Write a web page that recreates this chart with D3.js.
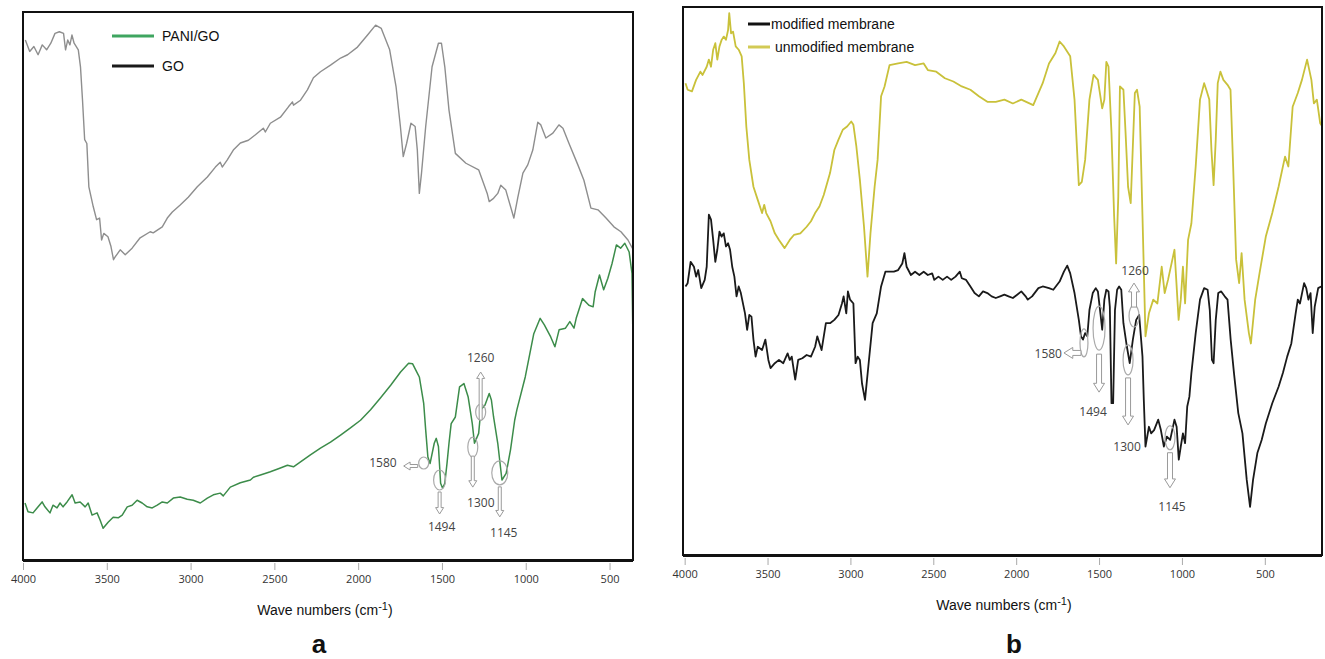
<!DOCTYPE html>
<html lang="en">
<head>
<meta charset="UTF-8">
<title>FTIR spectra</title>
<script src="https://d3js.org/d3.v7.min.js"></script>
<style>
  body { margin: 0; background: #fff; font-family: "Liberation Sans", Arial, sans-serif; }
  .tick text { font-family: "Open Sans", sans-serif; font-size: 11px; fill: #333; }
  .tick line { stroke: #aaa; }
  .peak { font-family: "Open Sans", sans-serif; font-size: 12px; fill: #444; }
  .legend { font-size: 14px; fill: #111; }
</style>
</head>
<body>
<svg width="1325" height="659"></svg>
<script>
// ---- data (wavenumber cm-1, transmittance a.u.) ----
const ticks = [4000, 3500, 3000, 2500, 2000, 1500, 1000, 500];

const goData = [[3986,94.9],[3960,92.8],[3935,93.7],[3910,92.2],[3885,94.0],[3859,93.1],[3834,94.3],[3809,96.1],[3783,96.4],[3758,96.1],[3746,93.1],[3733,94.9],[3720,94.0],[3708,95.8],[3695,94.3],[3670,93.1],[3657,90.0],[3645,84.0],[3632,76.7],[3619,76.0],[3607,68.1],[3581,64.5],[3561,62.1],[3543,62.4],[3531,58.4],[3518,59.6],[3493,59.0],[3475,57.2],[3460,54.8],[3450,55.3],[3420,56.6],[3390,55.7],[3349,56.9],[3301,58.8],[3241,59.9],[3223,59.7],[3169,60.8],[3139,62.4],[3109,63.5],[3062,64.8],[3014,66.2],[2960,68.1],[2900,69.9],[2852,71.7],[2823,72.6],[2811,71.7],[2781,73.0],[2745,74.8],[2703,76.1],[2655,76.6],[2613,77.6],[2566,78.8],[2554,78.1],[2524,79.7],[2464,80.8],[2416,82.7],[2392,83.6],[2386,83.0],[2344,83.9],[2303,85.8],[2267,88.0],[2225,89.1],[2165,90.3],[2105,91.6],[2063,92.2],[2004,93.6],[1944,95.8],[1896,97.6],[1862,97.0],[1812,93.1],[1774,86.4],[1748,79.1],[1731,73.6],[1711,76.0],[1685,79.7],[1660,79.1],[1647,74.8],[1635,66.9],[1622,70.6],[1597,79.1],[1559,90.0],[1521,94.3],[1503,94.3],[1483,90.0],[1458,82.1],[1420,74.2],[1357,72.4],[1281,71.2],[1230,66.9],[1218,65.4],[1192,66.0],[1167,66.9],[1149,68.4],[1119,67.5],[1071,62.4],[1047,66.2],[1017,70.6],[988,72.1],[958,74.8],[928,79.9],[910,79.4],[880,77.0],[838,77.9],[802,79.4],[778,78.8],[743,76.1],[689,72.1],[653,69.3],[611,64.2],[569,63.9],[521,62.4],[474,60.8],[432,59.9],[390,58.4],[362,56.8]];

const paniData = [[3988,10.4],[3970,8.8],[3940,8.6],[3916,9.5],[3886,10.6],[3869,9.7],[3839,8.6],[3821,10.0],[3797,9.5],[3779,10.4],[3761,9.7],[3737,10.6],[3707,11.9],[3689,10.4],[3659,10.6],[3629,9.7],[3611,10.4],[3588,8.2],[3558,8.6],[3540,7.3],[3522,5.8],[3492,6.9],[3462,7.8],[3432,7.7],[3408,8.2],[3378,9.7],[3349,10.0],[3319,10.9],[3289,10.4],[3259,9.7],[3229,9.5],[3199,10.0],[3169,10.6],[3139,10.4],[3103,11.3],[3062,11.5],[3020,11.1],[2984,10.9],[2942,10.4],[2900,11.3],[2864,11.9],[2823,12.2],[2805,11.7],[2763,13.3],[2703,14.1],[2643,14.6],[2625,15.1],[2583,15.5],[2524,16.1],[2464,16.8],[2422,17.3],[2386,17.0],[2344,17.9],[2285,19.2],[2225,20.4],[2165,21.5],[2105,22.8],[2046,24.1],[1986,25.5],[1926,27.4],[1866,29.6],[1806,31.9],[1747,34.3],[1699,35.9],[1675,35.8],[1650,34.3],[1635,33.4],[1609,28.6],[1597,23.7],[1584,18.8],[1571,17.6],[1546,21.3],[1534,22.2],[1521,20.7],[1508,14.0],[1496,13.1],[1483,14.0],[1470,17.6],[1458,21.3],[1445,24.9],[1420,26.1],[1395,31.6],[1369,32.2],[1344,29.8],[1319,24.9],[1306,21.3],[1281,23.1],[1268,27.4],[1243,28.3],[1218,30.4],[1205,29.2],[1192,26.1],[1167,21.3],[1142,14.6],[1117,15.8],[1091,20.1],[1066,25.5],[1053,27.4],[1003,33.4],[952,41.3],[914,44.1],[889,42.9],[851,40.7],[826,38.9],[801,42.0],[763,42.3],[737,43.5],[712,42.3],[699,44.1],[661,47.7],[623,46.5],[598,46.2],[586,48.9],[560,52.0],[535,49.3],[510,51.4],[485,54.1],[459,57.5],[434,56.9],[409,57.8],[383,56.2],[366,52.3],[360,39.5]];

const unmodData = [[3995,86.1],[3982,84.9],[3956,84.6],[3931,86.7],[3905,88.2],[3892,87.6],[3867,89.1],[3854,90.4],[3841,89.1],[3828,92.2],[3815,93.4],[3803,90.4],[3790,92.8],[3777,94.0],[3764,94.6],[3751,94.0],[3738,95.8],[3731,98.9],[3720,95.2],[3708,95.5],[3692,92.8],[3674,92.2],[3656,91.0],[3643,86.1],[3628,78.2],[3610,72.1],[3585,67.2],[3559,64.8],[3533,62.4],[3520,63.9],[3508,62.4],[3482,60.9],[3456,58.7],[3431,57.5],[3397,56.0],[3366,57.5],[3341,58.4],[3302,58.7],[3264,59.9],[3238,60.9],[3213,62.4],[3187,63.6],[3161,65.7],[3123,69.7],[3097,73.9],[3072,75.8],[3046,77.6],[3020,78.2],[2995,79.1],[2982,78.5],[2964,74.5],[2943,68.5],[2918,59.9],[2897,50.8],[2879,58.7],[2854,67.2],[2836,72.1],[2815,83.7],[2794,85.5],[2764,89.4],[2712,89.7],[2661,90.0],[2610,89.4],[2558,89.7],[2533,88.5],[2482,88.2],[2430,87.0],[2379,86.4],[2328,85.5],[2276,84.9],[2225,83.7],[2174,82.7],[2123,82.7],[2071,83.1],[2020,82.4],[1969,83.1],[1897,82.1],[1840,86.1],[1802,89.7],[1763,91.6],[1738,93.7],[1712,92.8],[1674,91.0],[1648,83.1],[1622,67.5],[1604,68.1],[1584,72.1],[1558,83.1],[1533,87.6],[1507,86.7],[1481,81.5],[1468,83.1],[1456,90.0],[1443,89.1],[1425,77.0],[1409,61.8],[1397,53.2],[1384,65.4],[1374,85.5],[1353,84.9],[1340,77.0],[1325,67.2],[1309,64.2],[1297,73.9],[1284,84.3],[1271,84.9],[1255,81.8],[1238,61.8],[1220,39.9],[1199,44.1],[1173,46.6],[1148,45.9],[1122,52.6],[1104,47.8],[1084,50.2],[1045,55.7],[1020,42.9],[1007,46.6],[994,52.6],[981,45.9],[963,57.5],[943,60.5],[917,70.9],[891,83.1],[866,86.1],[853,84.9],[835,83.1],[822,73.9],[809,67.5],[796,75.8],[784,86.1],[768,88.2],[750,86.7],[725,85.8],[707,84.9],[691,70.9],[673,53.9],[655,49.6],[640,55.1],[622,46.6],[596,40.5],[584,38.6],[558,46.6],[532,51.4],[494,58.1],[455,62.4],[417,67.2],[378,72.7],[358,70.9],[332,81.8],[301,84.3],[276,86.7],[245,90.4],[219,86.7],[204,82.4],[186,83.1],[166,78.8],[155,78.3]];

const modData = [[3995,49.0],[3982,49.6],[3964,53.5],[3944,52.6],[3931,50.8],[3918,52.0],[3900,48.7],[3879,50.2],[3867,52.6],[3854,62.1],[3841,61.2],[3828,57.5],[3815,53.5],[3803,55.7],[3790,59.0],[3777,58.1],[3764,58.7],[3751,56.3],[3738,56.9],[3726,55.7],[3713,52.6],[3700,50.8],[3687,47.2],[3674,49.0],[3661,47.8],[3636,44.1],[3623,41.1],[3610,43.8],[3597,43.5],[3585,39.3],[3572,36.2],[3559,38.0],[3533,37.4],[3513,39.3],[3495,35.6],[3482,34.1],[3456,35.0],[3431,35.6],[3405,35.0],[3379,36.8],[3366,35.6],[3354,36.2],[3333,32.0],[3315,35.6],[3290,35.9],[3264,36.5],[3238,36.2],[3213,38.0],[3200,39.9],[3174,37.4],[3148,42.3],[3123,42.3],[3097,42.9],[3072,43.8],[3051,45.9],[3041,47.2],[3025,44.1],[3015,48.1],[3002,46.6],[2982,45.9],[2969,35.0],[2956,36.2],[2943,35.6],[2930,31.3],[2912,28.3],[2892,34.4],[2866,42.3],[2841,44.1],[2815,49.0],[2789,51.7],[2738,51.7],[2712,52.0],[2687,53.2],[2674,55.1],[2661,52.6],[2635,51.1],[2610,51.7],[2584,51.1],[2558,51.7],[2533,51.1],[2507,51.4],[2494,50.2],[2469,50.8],[2443,50.2],[2417,50.8],[2392,50.2],[2366,50.8],[2340,51.7],[2328,50.5],[2302,50.2],[2276,49.0],[2251,47.8],[2225,47.2],[2200,48.1],[2174,47.8],[2148,47.2],[2123,46.9],[2097,47.2],[2071,47.5],[2046,47.2],[2020,46.9],[1994,47.5],[1969,48.1],[1943,47.2],[1930,46.6],[1904,47.2],[1866,48.7],[1840,49.0],[1802,48.7],[1776,48.4],[1738,49.9],[1712,51.7],[1692,52.8],[1674,51.4],[1648,47.8],[1622,42.9],[1609,39.9],[1597,39.3],[1584,40.5],[1571,39.9],[1558,44.7],[1538,47.8],[1520,48.7],[1507,48.1],[1494,44.7],[1481,41.1],[1468,46.6],[1456,48.4],[1443,48.1],[1435,45.3],[1425,27.7],[1415,27.7],[1404,44.7],[1391,48.4],[1379,49.0],[1366,48.4],[1353,42.3],[1332,38.0],[1315,35.0],[1296,39.3],[1276,42.9],[1258,43.8],[1238,36.2],[1230,28.3],[1220,19.8],[1199,23.4],[1186,22.2],[1168,22.8],[1143,24.7],[1127,22.8],[1109,19.8],[1091,21.6],[1071,21.0],[1045,24.7],[1032,23.4],[1019,17.4],[1007,19.8],[994,22.2],[981,20.4],[968,27.1],[955,28.9],[943,33.2],[917,40.5],[891,46.6],[866,48.7],[845,48.4],[832,44.7],[819,35.6],[809,35.0],[796,42.9],[781,47.8],[763,48.1],[742,47.2],[725,46.6],[706,39.3],[686,33.2],[660,25.9],[635,22.2],[609,13.7],[589,8.8],[571,13.7],[545,18.6],[519,21.0],[494,24.0],[455,27.7],[417,30.7],[391,33.2],[365,36.2],[340,38.6],[314,44.1],[301,46.6],[288,45.9],[263,49.6],[250,48.7],[237,46.6],[224,47.8],[211,40.5],[199,45.3],[178,48.7],[160,49.0]];

// peak marks: label, wavenumber, transmittance at the marked spot
const peakLabels = ["1580", "1494", "1300", "1145", "1260"];
const peaksA = [[1609,17.7],[1514,14.6],[1316,20.6],[1155,15.9],[1269,27.0]];
const peaksB = [[1591,38.7],[1500,41.4],[1325,35.6],[1072,21.4],[1289,43.6]];

// ---- layout ----
const svg = d3.select("svg");

const panels = [
  { id: "a", left: 23, right: 633, top: 12, bottom: 560, domain: [4000, 360],
    series: [ { data: goData, color: "#8e8e8e", w: 1.4 }, { data: paniData, color: "#3c8c4a", w: 1.5 } ],
    legend: [ { name: "PANI/GO", color: "#3fa560", y: 36 }, { name: "GO", color: "#1a1a1a", y: 66 } ],
    legendX: 112, legendLen: 42, legendGap: 8,
    peaks: peaksA,
    // ellipse rx, ry; arrow: dir, from, to; label dx, dy
    marks: [
      { rx: 5, ry: 6, dir: "left", a0: 6, a1: 20, off: 3, lx: -27, ly: 4, anchor: "end" },
      { rx: 6, ry: 10, dir: "down", a0: 12, a1: 34, lx: 2, ly: 51 },
      { rx: 5, ry: 10, dir: "down", a0: 9, a1: 40, lx: 8, ly: 60 },
      { rx: 8, ry: 12, dir: "down", a0: 14, a1: 44, lx: 4, ly: 64 },
      { rx: 5, ry: 8, dir: "up", a0: -8, a1: 40, lx: 0, ly: -50 }
    ], shaft: 3, head: 8,
    titleX: 325, letterX: 319 },
  { id: "b", left: 683, right: 1322, top: 7, bottom: 555, domain: [4010, 155],
    series: [ { data: unmodData, color: "#c9c13a", w: 1.8 }, { data: modData, color: "#1a1a1a", w: 1.8 } ],
    legend: [ { name: "modified membrane", color: "#111", y: 24 }, { name: " unmodified membrane", color: "#d2ca55", y: 47 } ],
    legendX: 748, legendLen: 22, legendGap: 1,
    peaks: peaksB,
    marks: [
      { rx: 4, ry: 14, dir: "left", a0: 3, a1: 20, off: 10, lx: -22, ly: 15, anchor: "end" },
      { rx: 6, ry: 22, dir: "down", a0: 26, a1: 64, lx: -6, ly: 88 },
      { rx: 5, ry: 15, dir: "down", a0: 18, a1: 65, lx: -1, ly: 91 },
      { rx: 5, ry: 12, dir: "down", a0: 15, a1: 50, lx: 2, ly: 73 },
      { rx: 5, ry: 11, dir: "up", a0: 9, a1: 33, lx: 1, ly: -41 }
    ], shaft: 5, head: 11,
    titleX: 1004, letterX: 1014 }
];

function hollowArrow(g, x, y, len, dir, shaft, head) {
  // arrow pointing along dir starting at (x,y)
  const hl = head * 0.8, s = shaft / 2, h = head / 2;
  let pts;
  if (dir === "down") {
    pts = [[x - s, y], [x + s, y], [x + s, y + len - hl], [x + h, y + len - hl], [x, y + len], [x - h, y + len - hl], [x - s, y + len - hl]];
  } else if (dir === "up") {
    pts = [[x - s, y], [x + s, y], [x + s, y - len + hl], [x + h, y - len + hl], [x, y - len], [x - h, y - len + hl], [x - s, y - len + hl]];
  } else {
    pts = [[x, y - s], [x, y + s], [x - len + hl, y + s], [x - len + hl, y + h], [x - len, y], [x - len + hl, y - h], [x - len + hl, y - s]];
  }
  g.append("polygon").attr("points", pts.map(p => p.join(",")).join(" "))
    .attr("fill", "#fff").attr("stroke", "#9a9a9a").attr("stroke-width", 1);
}

panels.forEach(p => {
  const x = d3.scaleLinear().domain(p.domain).range([p.left, p.right]);
  const y = d3.scaleLinear().domain([0, 100]).range([p.bottom, p.top]);
  const g = svg.append("g");

  const clipId = "clip-" + p.id;
  svg.append("clipPath").attr("id", clipId).append("rect")
    .attr("x", p.left).attr("y", p.top).attr("width", p.right - p.left).attr("height", p.bottom - p.top);

  const line = d3.line().x(d => x(d[0])).y(d => y(d[1]));
  p.series.forEach(s => {
    g.append("path").datum(s.data).attr("d", line)
      .attr("clip-path", `url(#${clipId})`)
      .attr("fill", "none").attr("stroke", s.color).attr("stroke-width", s.w)
      .attr("stroke-linejoin", "round");
  });

  // frame
  g.append("rect").attr("x", p.left).attr("y", p.top)
    .attr("width", p.right - p.left).attr("height", p.bottom - p.top)
    .attr("fill", "none").attr("stroke", "#111").attr("stroke-width", 2);
  g.append("line").attr("x1", p.left).attr("x2", p.right)
    .attr("y1", p.bottom + 1).attr("y2", p.bottom + 1)
    .attr("stroke", "#111").attr("stroke-width", 2);

  // axis
  const axis = g.append("g").attr("transform", `translate(0,${p.bottom + 3})`)
    .call(d3.axisBottom(x).tickValues(ticks).tickSize(7).tickPadding(5).tickFormat(d3.format("d")));
  axis.select(".domain").remove();

  const t = g.append("text").attr("x", p.titleX).attr("y", p.bottom + 55)
    .attr("text-anchor", "middle").attr("font-size", 14).attr("fill", "#111");
  t.append("tspan").text("Wave numbers (cm");
  t.append("tspan").attr("dy", -5).attr("font-size", 11).text("-1");
  t.append("tspan").attr("dy", 5).text(")");

  g.append("text").attr("x", p.letterX).attr("y", 653)
    .attr("text-anchor", "middle").attr("font-size", 26).attr("font-weight", "bold")
    .attr("fill", "#111").text(p.id);

  // legend
  p.legend.forEach(l => {
    g.append("line").attr("x1", p.legendX).attr("x2", p.legendX + p.legendLen)
      .attr("y1", l.y).attr("y2", l.y).attr("stroke", l.color).attr("stroke-width", 3);
    g.append("text").attr("class", "legend")
      .attr("x", p.legendX + p.legendLen + p.legendGap).attr("y", l.y + 5)
      .attr("font-size", p.id === "a" ? 13 : 15)
      .style("white-space", "pre").text(l.name);
  });

  // peak marks
  p.peaks.forEach((pk, i) => {
    const m = p.marks[i];
    const cx = x(pk[0]), cy = y(pk[1]);
    g.append("ellipse").attr("cx", cx).attr("cy", cy).attr("rx", m.rx).attr("ry", m.ry)
      .attr("fill", "none").attr("stroke", "#aaa").attr("stroke-width", 1.2);
    if (m.dir === "left") {
      hollowArrow(g, cx - m.a0, cy + m.off, m.a1 - m.a0, "left", p.shaft, p.head);
    } else if (m.dir === "down") {
      hollowArrow(g, cx, cy + m.a0, m.a1 - m.a0, "down", p.shaft, p.head);
    } else {
      hollowArrow(g, cx, cy - m.a0, m.a1 - m.a0, "up", p.shaft, p.head);
    }
    g.append("text").attr("class", "peak").attr("x", cx + m.lx).attr("y", cy + m.ly)
      .attr("text-anchor", m.anchor || "middle").text(peakLabels[i]);
  });
});
</script>
</body>
</html>
